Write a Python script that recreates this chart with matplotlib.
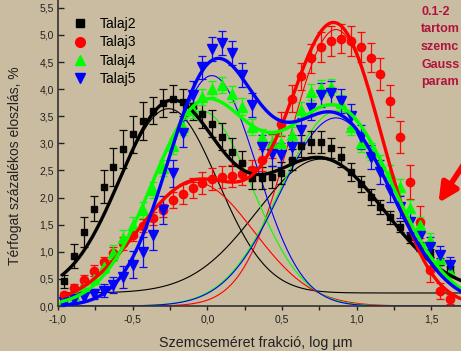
import numpy as np
import matplotlib.pyplot as plt
from matplotlib.lines import Line2D
from matplotlib.ticker import MultipleLocator, FuncFormatter

plt.rcParams['font.family'] = ['Liberation Sans', 'DejaVu Sans']

# log size classes (log um)
x_log = [-0.960, -0.894, -0.828, -0.761, -0.695, -0.629, -0.563, -0.497, -0.430, -0.364,
         -0.298, -0.232, -0.166, -0.099, -0.033, 0.033, 0.099, 0.165, 0.232, 0.298,
         0.364, 0.430, 0.496, 0.563, 0.629, 0.695, 0.761, 0.827, 0.894, 0.960,
         1.026, 1.092, 1.158, 1.225, 1.291, 1.357, 1.423, 1.489, 1.555, 1.622]

talaj2 = [0.46, 0.92, 1.37, 1.79, 2.20, 2.57, 2.90, 3.17, 3.41, 3.60,
          3.74, 3.82, 3.76, 3.69, 3.54, 3.36, 3.12, 2.84, 2.64, 2.36,
          2.36, 2.38, 2.45, 2.70, 2.95, 3.03, 3.03, 2.91, 2.75, 2.47,
          2.25, 2.01, 1.83, 1.64, 1.46, 1.27, 1.10, 0.98, 0.82, 0.68]
talaj2_err = [0.12, 0.22, 0.28, 0.23, 0.30, 0.35, 0.35, 0.34, 0.35, 0.25,
              0.26, 0.25, 0.25, 0.25, 0.25, 0.25, 0.25, 0.25, 0.22, 0.20,
              0.20, 0.20, 0.20, 0.20, 0.20, 0.20, 0.20, 0.18, 0.18, 0.17,
              0.15, 0.15, 0.13, 0.12, 0.10, 0.10, 0.08, 0.08, 0.06, 0.06]

talaj3 = [0.20, 0.33, 0.48, 0.65, 0.81, 0.97, 1.16, 1.31, 1.48, 1.62,
          1.77, 1.96, 2.07, 2.18, 2.27, 2.34, 2.38, 2.40, 2.44, 2.50,
          2.69, 2.95, 3.35, 3.82, 4.24, 4.57, 4.78, 4.89, 4.93, 4.89,
          4.78, 4.58, 4.28, 3.78, 3.12, 2.29, 1.55, 0.66, 0.28, 0.13]
talaj3_err = [0.05, 0.08, 0.10, 0.10, 0.10, 0.12, 0.12, 0.12, 0.12, 0.12,
              0.12, 0.15, 0.18, 0.18, 0.20, 0.20, 0.20, 0.20, 0.20, 0.20,
              0.20, 0.22, 0.22, 0.25, 0.25, 0.27, 0.27, 0.27, 0.27, 0.27,
              0.27, 0.27, 0.30, 0.30, 0.30, 0.32, 0.30, 0.22, 0.15, 0.10]

talaj4 = [0.12, 0.20, 0.33, 0.50, 0.72, 0.98, 1.25, 1.50, 1.77, 2.14,
          2.55, 2.95, 3.30, 3.62, 3.85, 4.00, 4.08, 3.91, 3.68, 3.30,
          3.12, 3.00, 3.00, 3.15, 3.62, 3.95, 4.02, 4.04, 3.75, 3.30,
          3.00, 2.85, 2.64, 2.45, 2.20, 1.80, 1.50, 1.22, 0.87, 0.63]
talaj4_err = [0.05, 0.05, 0.08, 0.10, 0.12, 0.15, 0.15, 0.15, 0.15, 0.15,
              0.15, 0.15, 0.15, 0.15, 0.15, 0.15, 0.15, 0.15, 0.15, 0.15,
              0.15, 0.15, 0.15, 0.15, 0.15, 0.15, 0.15, 0.15, 0.15, 0.15,
              0.15, 0.15, 0.15, 0.15, 0.15, 0.15, 0.15, 0.12, 0.10, 0.10]

talaj5 = [0.07, 0.13, 0.17, 0.22, 0.28, 0.39, 0.54, 0.76, 1.00, 1.31,
          1.77, 2.45, 3.19, 3.90, 4.40, 4.74, 4.85, 4.67, 4.26, 3.71,
          2.93, 2.80, 2.79, 2.93, 3.25, 3.65, 3.89, 3.93, 3.78, 3.50,
          3.12, 2.75, 2.47, 2.14, 1.83, 1.55, 1.30, 1.09, 0.95, 0.76]
talaj5_err = [0.05, 0.06, 0.08, 0.10, 0.12, 0.15, 0.20, 0.25, 0.28, 0.28,
              0.25, 0.25, 0.25, 0.25, 0.22, 0.22, 0.22, 0.22, 0.22, 0.22,
              0.22, 0.22, 0.22, 0.22, 0.22, 0.22, 0.22, 0.22, 0.22, 0.22,
              0.22, 0.22, 0.22, 0.22, 0.20, 0.20, 0.20, 0.18, 0.15, 0.15]

# two-Gaussian fit parameters: baseline, (A, centre, sigma) x2
fit_talaj2 = (0.24, [(3.40, -0.26, 0.33), (2.47, 0.76, 0.43)])
fit_talaj3 = (0.00, [(2.28, -0.08, 0.39), (5.10, 0.86, 0.31)])
fit_talaj4 = (0.00, [(3.60, -0.04, 0.34), (3.60, 0.87, 0.376)])
fit_talaj5 = (0.00, [(4.25, 0.03, 0.30), (3.47, 0.86, 0.37)])

names = ['Talaj2', 'Talaj3', 'Talaj4', 'Talaj5']
colors = ['#000000', '#ff0000', '#00ff00', '#0000ff']
markers = ['s', 'o', '^', 'v']
msizes = [5, 6, 6.5, 6.5]
series = [talaj2, talaj3, talaj4, talaj5]
errors = [talaj2_err, talaj3_err, talaj4_err, talaj5_err]
fits = [fit_talaj2, fit_talaj3, fit_talaj4, fit_talaj5]

# the note in the top right corner, as far as the picture shows it
note_lines = ['0.1-2', 'tartom', 'szemc', 'Gauss', 'param']

bg = '#c9bca0'


def gauss(x, a, c, s):
    return a * np.exp(-(x - c) ** 2 / (2 * s ** 2))


fig = plt.figure(figsize=(4.61, 3.51), dpi=100)
fig.patch.set_facecolor(bg)
ax = fig.add_axes([58 / 461, 45 / 351, 418.3 / 461, 309 / 351])
ax.set_facecolor(bg)

xf = np.linspace(-0.97, 1.8, 500)

# thin component curves
for (y0, comps), col in zip(fits, colors):
    for a, c, s in comps:
        ax.plot(xf, y0 + gauss(xf, a, c, s), color=col, lw=0.8, zorder=2)

# measured points with error bars
for ys, err, col, mk, ms in zip(series, errors, colors, markers, msizes):
    ax.errorbar(x_log, ys, yerr=err, fmt=mk, color=col, ms=ms, mec=col,
                elinewidth=0.9, capsize=3, capthick=0.9, ecolor=col, alpha=0.95, zorder=3)

# thick total fit curves
for (y0, comps), col in zip(fits, colors):
    total = y0 + sum(gauss(xf, a, c, s) for a, c, s in comps)
    ax.plot(xf, total, color=col, lw=2.4, zorder=4)

ax.set_xlim(-1.0, 1.8)
ax.set_ylim(0, 5.7)
ax.xaxis.set_major_locator(MultipleLocator(0.5))
ax.xaxis.set_minor_locator(MultipleLocator(0.25))
ax.yaxis.set_major_locator(MultipleLocator(0.5))
comma = FuncFormatter(lambda v, p: f"{v:.1f}".replace('.', ','))
ax.xaxis.set_major_formatter(comma)
ax.yaxis.set_major_formatter(comma)
ax.tick_params(axis='x', which='both', direction='out', length=3, width=1,
               labelsize=7.5, pad=3, colors='#222222')
ax.tick_params(axis='y', which='both', direction='in', length=4, width=1,
               labelsize=7.5, pad=3, colors='#222222')
for side in ['top', 'right']:
    ax.spines[side].set_visible(False)
for side in ['left', 'bottom']:
    ax.spines[side].set_color('#333333')
    ax.spines[side].set_linewidth(1.2)

fig.text(256 / 461, 1 - 343 / 351, 'Szemcseméret frakció, log µm', ha='center', va='center',
         fontsize=10.3, color='#222222')
fig.text(15 / 461, 1 - 166 / 351, 'Térfogat százalékos eloszlás, %', ha='center', va='center',
         rotation=90, fontsize=10, color='#222222')

handles = [Line2D([], [], ls='none', marker=mk, color=col, ms=ms + 1)
           for col, mk, ms in zip(colors, markers, msizes)]
ax.legend(handles, names, loc='upper left', bbox_to_anchor=(66 / 461, 1 - 10 / 351),
          bbox_transform=fig.transFigure, frameon=False, fontsize=10,
          handlelength=1.0, handletextpad=0.9, labelspacing=0.32, borderpad=0)

for i, line in enumerate(note_lines):
    fig.text(421 / 461, 1 - (12 + 17.5 * i) / 351, line, ha='left', va='center',
             fontsize=9, fontweight='bold', color='#b0143c')

ax.annotate('', xy=(1.537, 1.86), xytext=(1.80, 2.97), annotation_clip=False,
            arrowprops=dict(arrowstyle='-|>', color='#ff0000', lw=4, mutation_scale=28))

fig.savefig('out.png', dpi=100, facecolor=bg)
